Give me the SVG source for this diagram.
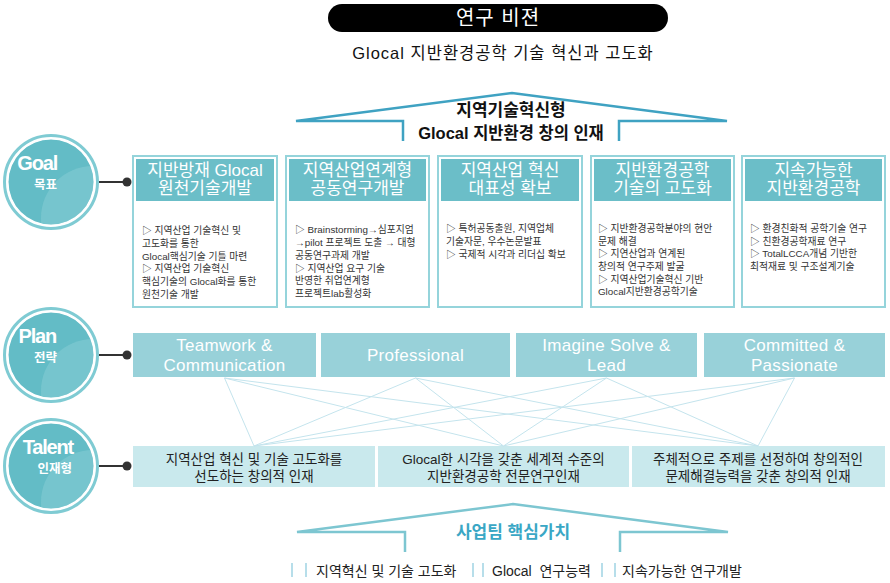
<svg xmlns="http://www.w3.org/2000/svg" width="890" height="583" viewBox="0 0 890 583">
<style>
.kr{font-family:"Liberation Sans","Noto Sans CJK KR",sans-serif}
.ttl{font-size:20px;fill:#fff;text-anchor:middle;letter-spacing:1px}
.sub{font-size:16.5px;fill:#111;text-anchor:middle;letter-spacing:1px}
.roof{fill:none;stroke:#3fa2c2;stroke-width:2.5}
.roof2{fill:none;stroke:#7dc6d1;stroke-width:2.5}
.rt{font-size:17px;font-weight:bold;fill:#111;text-anchor:middle}
.ring{fill:#fff;stroke:#7fcbd3;stroke-width:3}
.disc{fill:#63bcc6}
.hl{fill:#9bd6dc;opacity:0.35}
.cw{font-family:"Liberation Sans",sans-serif;font-weight:bold;fill:#fff;font-size:20px;letter-spacing:-1.2px;text-anchor:end}
.ck{font-family:"Liberation Sans","Noto Sans CJK KR",sans-serif;font-weight:bold;fill:#fff;font-size:12.5px;text-anchor:end}
.box{fill:#fff;stroke:#95d4db;stroke-width:2}
.hdr{fill:#6bbec8}
.ht{font-size:17px;fill:#fff;text-anchor:middle}
.bt{font-size:9.8px;fill:#333}
.pb{fill:#98d1d9}
.pt{font-family:"Liberation Sans",sans-serif;font-size:17px;fill:#fff;text-anchor:middle;letter-spacing:0.3px}
.tb{fill:#c9e9ed}
.tt{font-size:13.5px;fill:#222;text-anchor:middle}
.cl{stroke:#333;stroke-width:2}
.dot{fill:#333}
.x{stroke:#c4e4ed;stroke-width:1;fill:none}
.vt{font-size:17px;font-weight:bold;fill:#3aa7c5;text-anchor:middle}
.bar{stroke:#9fd3e3;stroke-width:1.5}
.vb{font-size:14px;fill:#222}
</style>
<defs>
<clipPath id="cc"><circle cx="0" cy="0" r="42.5"/></clipPath>
</defs>

<g id="title">
<rect x="328" y="4" width="340" height="28" rx="14" fill="#000"/>
<text class="kr ttl" x="498" y="25">연구 비젼</text>
<text class="kr sub" x="503" y="58.5">Glocal 지반환경공학 기술 혁신과 고도화</text>
</g>

<g id="roof">
<polyline class="roof" points="403,141 403,121 296,121 512,93 727,121 619,121 619,141"/>
<text class="kr rt" x="511" y="115.5">지역기술혁신형</text>
<text class="kr rt" x="511" y="138.5" style="font-size:16.5px">Glocal 지반환경 창의 인재</text>
</g>

<g id="goal-circle" transform="translate(51,182)">
<circle class="ring" r="46.5"/>
<g clip-path="url(#cc)"><circle class="disc" r="43"/><circle class="hl" cx="42" cy="36" r="52"/></g>
<text class="cw" x="6" y="-12.5">Goal</text>
<text class="ck" x="6" y="6.5">목표</text>
</g>
<g id="plan-circle" transform="translate(51,355)">
<circle class="ring" r="46.5"/>
<g clip-path="url(#cc)"><circle class="disc" r="43"/><circle class="hl" cx="42" cy="36" r="52"/></g>
<text class="cw" x="5" y="-12.5">Plan</text>
<text class="ck" x="6" y="6.5">전략</text>
</g>
<g id="talent-circle" transform="translate(51,466)">
<circle class="ring" r="46.5"/>
<g clip-path="url(#cc)"><circle class="disc" r="43"/><circle class="hl" cx="42" cy="36" r="52"/></g>
<text class="cw" x="22" y="-12.5">Talent</text>
<text class="ck" x="21" y="6.5">인재형</text>
</g>

<g id="goal-1">
<rect class="box" x="133" y="156" width="144" height="151"/>
<rect class="hdr" x="136" y="159" width="138" height="42"/>
<text class="kr ht" x="205" y="176">지반방재 Glocal</text>
<text class="kr ht" x="205" y="194">원천기술개발</text>
<text class="kr bt" x="142" y="234">▷ 지역산업 기술혁신 및</text>
<text class="kr bt" x="142" y="247">고도화를 통한</text>
<text class="kr bt" x="142" y="260">Glocal핵심기술 기틀 마련</text>
<text class="kr bt" x="142" y="272">▷ 지역산업 기술혁신</text>
<text class="kr bt" x="142" y="285">핵심기술의 Glocal화를 통한</text>
<text class="kr bt" x="142" y="298">원천기술 개발</text>
</g>
<g id="goal-2">
<rect class="box" x="286" y="156" width="143" height="151"/>
<rect class="hdr" x="289" y="159" width="137" height="42"/>
<text class="kr ht" x="357.5" y="176">지역산업연계형</text>
<text class="kr ht" x="357.5" y="194">공동연구개발</text>
<text class="kr bt" x="295" y="233">▷ Brainstorming→심포지엄</text>
<text class="kr bt" x="295" y="246">→pilot 프로젝트 도출 → 대형</text>
<text class="kr bt" x="295" y="259">공동연구과제 개발</text>
<text class="kr bt" x="295" y="272">▷ 지역산업 요구 기술</text>
<text class="kr bt" x="295" y="284">반영한 취업연계형</text>
<text class="kr bt" x="295" y="297">프로젝트lab활성화</text>
</g>
<g id="goal-3">
<rect class="box" x="438" y="156" width="144" height="151"/>
<rect class="hdr" x="441" y="159" width="138" height="42"/>
<text class="kr ht" x="510" y="176">지역산업 혁신</text>
<text class="kr ht" x="510" y="194">대표성 확보</text>
<text class="kr bt" x="446" y="232">▷ 특허공동출원, 지역업체</text>
<text class="kr bt" x="446" y="245">기술자문, 우수논문발표</text>
<text class="kr bt" x="446" y="258">▷ 국제적 시각과 리더십 확보</text>
</g>
<g id="goal-4">
<rect class="box" x="591" y="156" width="143" height="151"/>
<rect class="hdr" x="594" y="159" width="137" height="42"/>
<text class="kr ht" x="662.5" y="176">지반환경공학</text>
<text class="kr ht" x="662.5" y="194">기술의 고도화</text>
<text class="kr bt" x="598" y="232">▷ 지반환경공학분야의 현안</text>
<text class="kr bt" x="598" y="244.5">문제 해결</text>
<text class="kr bt" x="598" y="257">▷ 지연산업과 연계된</text>
<text class="kr bt" x="598" y="270">창의적 연구주제 발굴</text>
<text class="kr bt" x="598" y="282.5">▷ 지역산업기술혁신 기반</text>
<text class="kr bt" x="598" y="295">Glocal지반환경공학기술</text>
</g>
<g id="goal-5">
<rect class="box" x="742" y="156" width="143" height="151"/>
<rect class="hdr" x="745" y="159" width="137" height="42"/>
<text class="kr ht" x="813.5" y="176">지속가능한</text>
<text class="kr ht" x="813.5" y="194">지반환경공학</text>
<text class="kr bt" x="750" y="232">▷ 환경친화적 공학기술 연구</text>
<text class="kr bt" x="750" y="244.5">▷ 친환경공학재료 연구</text>
<text class="kr bt" x="750" y="257">▷ TotalLCCA개념 기반한</text>
<text class="kr bt" x="750" y="270">최적재료 및 구조설계기술</text>
</g>

<g id="plan-1">
<rect class="pb" x="133" y="333" width="183" height="44"/>
<text class="pt" x="224.5" y="351">Teamwork &amp;</text>
<text class="pt" x="224.5" y="371">Communication</text>
</g>
<g id="plan-2">
<rect class="pb" x="321" y="333" width="189" height="44"/>
<text class="pt" x="415.5" y="361">Professional</text>
</g>
<g id="plan-3">
<rect class="pb" x="516" y="333" width="181" height="44"/>
<text class="pt" x="606.5" y="351">Imagine Solve &amp;</text>
<text class="pt" x="606.5" y="371">Lead</text>
</g>
<g id="plan-4">
<rect class="pb" x="704" y="333" width="181" height="44"/>
<text class="pt" x="794.5" y="351">Committed &amp;</text>
<text class="pt" x="794.5" y="371">Passionate</text>
</g>

<g id="talent-1">
<rect class="tb" x="133" y="446" width="242" height="41"/>
<text class="kr tt" x="254" y="463.5">지역산업 혁신 및 기술 고도화를</text>
<text class="kr tt" x="254" y="480.5">선도하는 창의적 인재</text>
</g>
<g id="talent-2">
<rect class="tb" x="378" y="446" width="251" height="41"/>
<text class="kr tt" x="503.5" y="463.5">Glocal한 시각을 갖춘 세계적 수준의</text>
<text class="kr tt" x="503.5" y="480.5">지반환경공학 전문연구인재</text>
</g>
<g id="talent-3">
<rect class="tb" x="632" y="446" width="253" height="41"/>
<text class="kr tt" x="758" y="463.5">주체적으로 주제를 선정하여 창의적인</text>
<text class="kr tt" x="758" y="480.5">문제해결능력을 갖춘 창의적 인재</text>
</g>

<g id="connectors">
<line class="cl" x1="99" y1="182" x2="127" y2="182"/><circle class="dot" cx="127" cy="182" r="4.5"/>
<line class="cl" x1="99" y1="355" x2="127" y2="355"/><circle class="dot" cx="127" cy="355" r="4.5"/>
<line class="cl" x1="99" y1="466" x2="127" y2="466"/><circle class="dot" cx="127" cy="466" r="4.5"/>
<path class="x" d="M224.5,378L254,446M224.5,378L503.5,446M224.5,378L758,446M415.5,378L254,446M415.5,378L503.5,446M415.5,378L758,446M606.5,378L254,446M606.5,378L503.5,446M606.5,378L758,446M794.5,378L254,446M794.5,378L503.5,446M794.5,378L758,446"/>
</g>

<g id="values">
<polyline class="roof2" points="405,552 405,532 297,532 513,504 728,532 620,532 620,552"/>
<text class="kr vt" x="513" y="538">사업팀 핵심가치</text>
<line class="bar" x1="292" y1="563" x2="292" y2="577"/>
<line class="bar" x1="306" y1="563" x2="306" y2="577"/>
<text class="kr vb" x="316" y="575.5">지역혁신 및 기술 고도화</text>
<line class="bar" x1="473" y1="563" x2="473" y2="577"/>
<line class="bar" x1="483" y1="563" x2="483" y2="577"/>
<text class="kr vb" x="492" y="575.5">Glocal&#160; 연구능력</text>
<line class="bar" x1="602" y1="563" x2="602" y2="577"/>
<line class="bar" x1="615" y1="563" x2="615" y2="577"/>
<text class="kr vb" x="622" y="575.5">지속가능한 연구개발</text>
</g>
</svg>
